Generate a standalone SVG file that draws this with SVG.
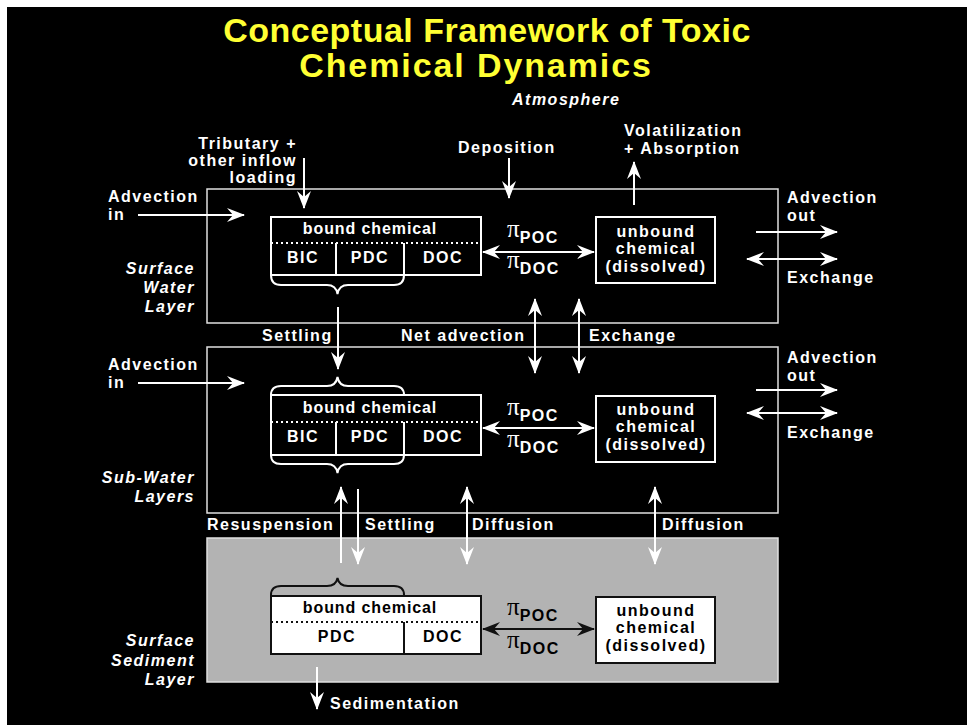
<svg xmlns="http://www.w3.org/2000/svg" width="967" height="725" viewBox="0 0 967 725">
<style>
text{font-family:"Liberation Sans",Arial,sans-serif;font-weight:bold;font-size:16px;letter-spacing:1.5px;fill:#fff}
.it{font-style:italic}
.title{fill:#ffff33;font-size:34px;letter-spacing:0.5px;text-anchor:middle}
.bc{font-size:16px;letter-spacing:0.9px;text-anchor:middle}
.mid{text-anchor:middle}
.end{text-anchor:end}
.dk{fill:#000}
.pi{font-family:"Liberation Serif","Times New Roman",serif;font-weight:normal;font-size:25px;letter-spacing:0}
.layer{fill:none;stroke:#e0e0e0;stroke-width:1.5}
.box{fill:none;stroke:#fff;stroke-width:2}
.boxw{fill:#fff;stroke:#111;stroke-width:2}
.dot{stroke:#fff;stroke-width:2;stroke-dasharray:2 3}
.dotk{stroke:#111;stroke-width:2;stroke-dasharray:2 3}
.ln{stroke:#fff;stroke-width:2;fill:none}
.lnk{stroke:#111;stroke-width:2;fill:none}
.arr{stroke:#fff;stroke-width:2;fill:none;marker-end:url(#ah)}
.arr2{stroke:#fff;stroke-width:2;fill:none;marker-end:url(#ah);marker-start:url(#ah)}
.arrk2{stroke:#111;stroke-width:2;fill:none;marker-end:url(#ahk);marker-start:url(#ahk)}
</style>
<defs>
<marker id="ah" markerUnits="userSpaceOnUse" markerWidth="18" markerHeight="16" viewBox="0 0 18 16" refX="17" refY="8" orient="auto-start-reverse">
<path d="M0,1 L18,8 L0,15 L6,8 z" fill="#fff"/>
</marker>
<marker id="ahk" markerUnits="userSpaceOnUse" markerWidth="18" markerHeight="16" viewBox="0 0 18 16" refX="17" refY="8" orient="auto-start-reverse">
<path d="M0,1 L18,8 L0,15 L6,8 z" fill="#111"/>
</marker>
</defs>
<rect x="0" y="0" width="967" height="725" fill="#fff"/>
<rect x="7" y="7" width="960" height="718" fill="#000"/>

<text class="title" x="487" y="42">Conceptual Framework of Toxic</text>
<text class="title" x="476" y="77" style="letter-spacing:1.9px">Chemical Dynamics</text>
<text class="it" x="512" y="105">Atmosphere</text>

<g id="surface-water-layer">
<rect class="layer" x="207" y="189" width="571" height="134"/>
<text class="it end" x="195" y="274">Surface</text>
<text class="it end" x="195" y="293">Water</text>
<text class="it end" x="195" y="312">Layer</text>
</g>
<g id="bound-surface-water">
<rect class="box" x="271" y="217" width="210" height="58"/>
<line class="dot" x1="271" y1="243" x2="481" y2="243"/>
<line class="ln" x1="336" y1="243" x2="336" y2="275"/>
<line class="ln" x1="404" y1="243" x2="404" y2="275"/>
<text class="bc" x="370" y="234">bound chemical</text>
<text class="mid" x="303" y="263">BIC</text>
<text class="mid" x="370" y="263">PDC</text>
<text class="mid" x="443" y="263">DOC</text>
<path class="ln" d="M271,275 Q271,285 281,285 L327,285 Q336,285 337.5,294 Q339,285 348,285 L394,285 Q404,285 404,275"/>
</g>
<g id="unbound-surface-water">
<rect class="box" x="596" y="217" width="119" height="66"/>
<text class="mid" x="656" y="237">unbound</text>
<text class="mid" x="656" y="254">chemical</text>
<text class="mid" x="656" y="272">(dissolved)</text>
</g>

<g id="sub-water-layers">
<rect class="layer" x="207" y="347" width="571" height="166"/>
<text class="it end" x="195" y="483">Sub-Water</text>
<text class="it end" x="195" y="502">Layers</text>
</g>
<g id="bound-sub-water">
<rect class="box" x="271" y="395" width="210" height="60"/>
<line class="dot" x1="271" y1="422" x2="481" y2="422"/>
<line class="ln" x1="336" y1="422" x2="336" y2="455"/>
<line class="ln" x1="404" y1="422" x2="404" y2="455"/>
<text class="bc" x="370" y="413">bound chemical</text>
<text class="mid" x="303" y="442">BIC</text>
<text class="mid" x="370" y="442">PDC</text>
<text class="mid" x="443" y="442">DOC</text>
<path class="ln" d="M271,395 Q271,386 281,386 L327,386 Q336,386 337.5,377 Q339,386 348,386 L394,386 Q404,386 404,395"/>
<path class="ln" d="M271,455 Q271,464 281,464 L327,464 Q336,464 337.5,473 Q339,464 348,464 L394,464 Q404,464 404,455"/>
</g>
<g id="unbound-sub-water">
<rect class="box" x="596" y="396" width="119" height="66"/>
<text class="mid" x="656" y="415">unbound</text>
<text class="mid" x="656" y="432">chemical</text>
<text class="mid" x="656" y="450">(dissolved)</text>
</g>

<g id="surface-sediment-layer">
<rect x="207" y="538" width="571" height="144" fill="#b3b3b3" stroke="#e0e0e0" stroke-width="1.5"/>
<text class="it end" x="195" y="646">Surface</text>
<text class="it end" x="195" y="666">Sediment</text>
<text class="it end" x="195" y="685">Layer</text>
</g>
<g id="bound-sediment">
<rect class="boxw" x="271" y="596" width="210" height="58"/>
<line class="dotk" x1="271" y1="622" x2="481" y2="622"/>
<line class="lnk" x1="404" y1="622" x2="404" y2="654"/>
<text class="bc dk" x="370" y="613">bound chemical</text>
<text class="mid dk" x="337" y="642">PDC</text>
<text class="mid dk" x="443" y="642">DOC</text>
<path class="lnk" d="M271,595 Q271,586 281,586 L327,586 Q336,586 337.5,578 Q339,586 348,586 L394,586 Q404,586 404,595"/>
</g>
<g id="unbound-sediment">
<rect class="boxw" x="596" y="597" width="119" height="66"/>
<text class="mid dk" x="656" y="616">unbound</text>
<text class="mid dk" x="656" y="633">chemical</text>
<text class="mid dk" x="656" y="651">(dissolved)</text>
</g>

<g id="connectors">
<line class="arr" x1="304" y1="158" x2="304" y2="208"/>
<line class="arr" x1="509" y1="158" x2="509" y2="198"/>
<line class="arr" x1="634" y1="205" x2="634" y2="162"/>
<line class="arr" x1="138" y1="215" x2="244" y2="215"/>
<line class="arr" x1="138" y1="383" x2="244" y2="383"/>
<line class="arr2" x1="483" y1="252" x2="594" y2="252"/>
<line class="arr2" x1="483" y1="428" x2="594" y2="428"/>
<line class="arrk2" x1="483" y1="629" x2="594" y2="629"/>
<line class="arr" x1="756" y1="232" x2="837" y2="232"/>
<line class="arr2" x1="747" y1="259" x2="837" y2="259"/>
<line class="arr" x1="756" y1="390" x2="837" y2="390"/>
<line class="arr2" x1="747" y1="413" x2="837" y2="413"/>
<line class="arr" x1="338" y1="307" x2="338" y2="369"/>
<line class="arr2" x1="535" y1="299" x2="535" y2="373"/>
<line class="arr2" x1="579" y1="299" x2="579" y2="373"/>
<line class="arr" x1="341" y1="563" x2="341" y2="487"/>
<line class="arr" x1="358" y1="489" x2="358" y2="564"/>
<line class="arr2" x1="467" y1="487" x2="467" y2="564"/>
<line class="arr2" x1="655" y1="487" x2="655" y2="564"/>
<line class="arr" x1="317" y1="667" x2="317" y2="709"/>
</g>

<text class="end" x="297" y="149">Tributary +</text>
<text class="end" x="297" y="166">other inflow</text>
<text class="end" x="297" y="183">loading</text>
<text x="458" y="153">Deposition</text>
<text x="624" y="136">Volatilization</text>
<text x="624" y="154">+ Absorption</text>
<text x="108" y="202">Advection</text>
<text x="108" y="220">in</text>
<text x="108" y="370">Advection</text>
<text x="108" y="388">in</text>
<text x="787" y="203">Advection</text>
<text x="787" y="221">out</text>
<text x="787" y="283">Exchange</text>
<text x="787" y="363">Advection</text>
<text x="787" y="381">out</text>
<text x="787" y="438">Exchange</text>
<text x="262" y="341">Settling</text>
<text x="401" y="341">Net advection</text>
<text x="589" y="341">Exchange</text>
<text x="207" y="530">Resuspension</text>
<text x="365" y="530">Settling</text>
<text x="472" y="530">Diffusion</text>
<text x="662" y="530">Diffusion</text>
<text x="330" y="709">Sedimentation</text>

<text x="507" y="237"><tspan class="pi">π</tspan><tspan dy="6">POC</tspan></text>
<text x="507" y="268"><tspan class="pi">π</tspan><tspan dy="6">DOC</tspan></text>
<text x="507" y="415"><tspan class="pi">π</tspan><tspan dy="6">POC</tspan></text>
<text x="507" y="447"><tspan class="pi">π</tspan><tspan dy="6">DOC</tspan></text>
<text class="dk" x="507" y="615"><tspan class="pi">π</tspan><tspan dy="6">POC</tspan></text>
<text class="dk" x="507" y="648"><tspan class="pi">π</tspan><tspan dy="6">DOC</tspan></text>
</svg>
